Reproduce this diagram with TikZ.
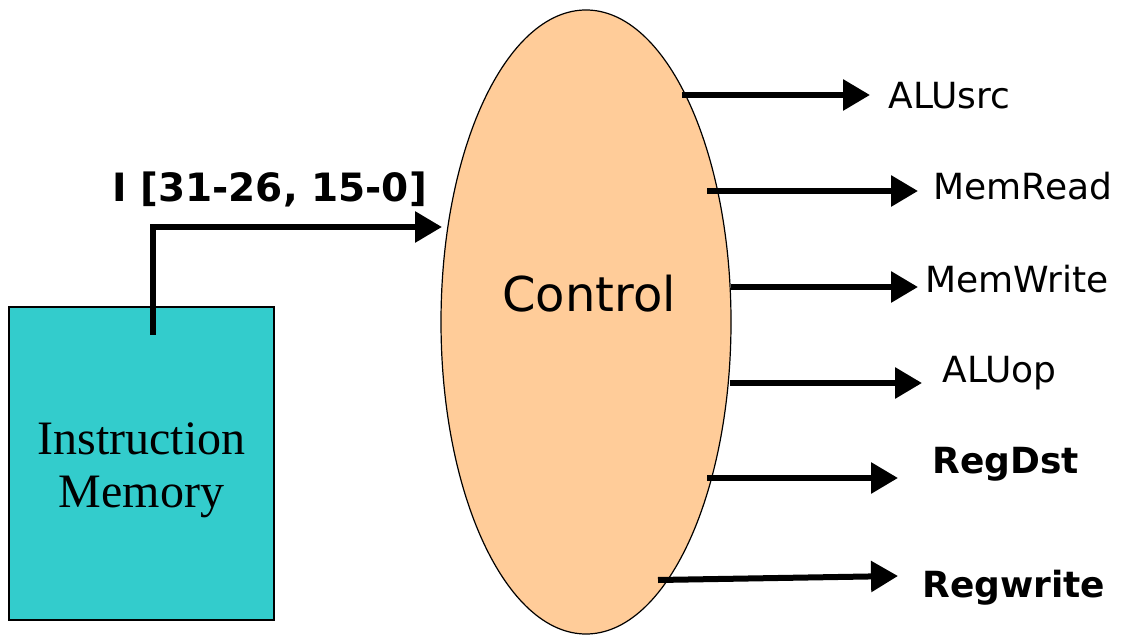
\documentclass[tikz,border=0pt]{standalone}
\usepackage{fontspec}
\setmainfont{Liberation Serif}
\newfontfamily\dv{DejaVu Sans}
\usetikzlibrary{arrows.meta,shapes.geometric}
\definecolor{teal1}{RGB}{51,204,204}
\definecolor{peach}{RGB}{255,204,153}
\begin{document}
\begin{tikzpicture}[x=0.5pt,y=-0.5pt,
  sig/.style={line width=3pt,-{Triangle[length=13.5pt,width=15pt]}},
  lbl/.style={inner sep=0pt,anchor=base west,font=\dv\fontsize{18}{20}\selectfont},
  blbl/.style={lbl,font=\dv\bfseries\fontsize{18}{20}\selectfont}]
\useasboundingbox (0,0) rectangle (1122,635);
\node[draw=black,line width=0.6pt,fill=teal1,minimum width=132.5pt,minimum height=156.5pt,inner sep=0pt] (imem) at (141.5,463.5) {};
\node[inner sep=0pt,align=center,font=\fontsize{24}{26.5}\selectfont] (imemtxt) at (141.5,470) {Instruction\\Memory};
\node[draw=black,line width=0.6pt,fill=peach,ellipse,minimum width=145pt,minimum height=312pt,inner sep=0pt] (ctrl) at (586,322) {};
\node[inner sep=0pt,anchor=base west,font=\dv\fontsize{24}{26}\selectfont] (ctl) at (502,312) {Control};
\node[inner sep=0pt,anchor=base west,font=\dv\bfseries\fontsize{19.5}{22}\selectfont] (ilbl) at (112,202) {I [31-26, 15-0]};
\node[lbl] (alusrc) at (888,109) {ALUsrc};
\node[lbl] (memread) at (933,200) {MemRead};
\node[lbl] (memwrite) at (925,293) {MemWrite};
\node[lbl] (aluop) at (942,383) {ALUop};
\node[blbl] (regdst) at (932,473) {RegDst};
\node[blbl] (regwrite) at (922,597) {Regwrite};
\coordinate (i0) at (153,335);
\coordinate (i1) at (153,227);
\coordinate (i2) at (442,227);
\draw[sig] (i0) -- (i1) -- (i2);
\coordinate (a0) at (682,95);  \coordinate (a1) at (870,95);
\coordinate (b0) at (707,191); \coordinate (b1) at (918,191);
\coordinate (c0) at (731,287); \coordinate (c1) at (918,287);
\coordinate (d0) at (730,383); \coordinate (d1) at (922,383);
\coordinate (e0) at (707,478); \coordinate (e1) at (898,478);
\coordinate (f0) at (658,580); \coordinate (f1) at (898,576);
\draw[sig] (a0) -- (a1);
\draw[sig] (b0) -- (b1);
\draw[sig] (c0) -- (c1);
\draw[sig] (d0) -- (d1);
\draw[sig] (e0) -- (e1);
\draw[sig] (f0) -- (f1);
\end{tikzpicture}
\end{document}
